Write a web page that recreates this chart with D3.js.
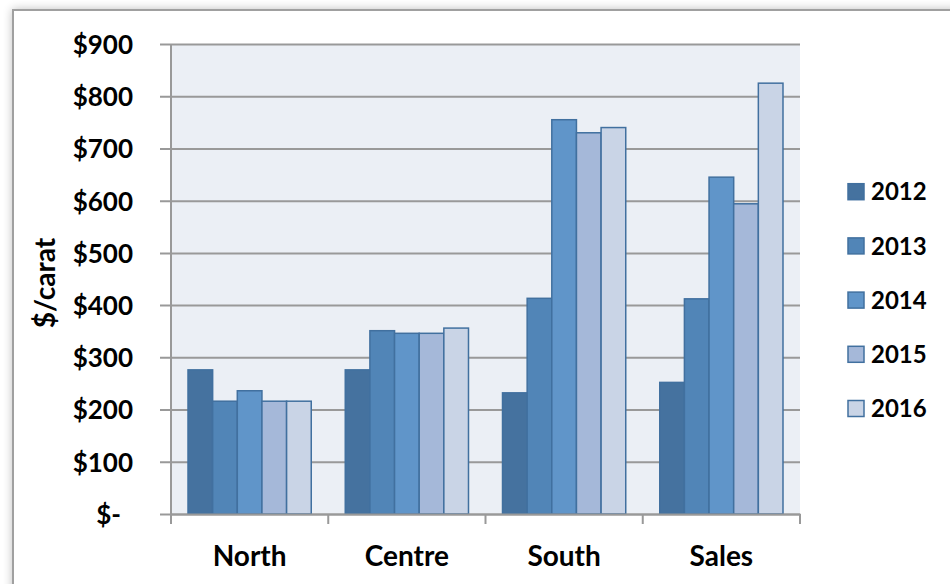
<!DOCTYPE html>
<html>
<head>
<meta charset="utf-8">
<script src="https://cdn.jsdelivr.net/npm/d3@7/dist/d3.min.js"></script>
<style>
  html, body { margin: 0; padding: 0; background: #fff; }
  svg { display: block; }
  text { font-family: Lato, "Open Sans", sans-serif; font-weight: bold; fill: #000; }
</style>
</head>
<body>
<svg id="chart" width="950" height="584"></svg>
<script>
// Price per carat by region, 2012–2016
const categories = ["North", "Centre", "South", "Sales"];
const years = ["2012", "2013", "2014", "2015", "2016"];
const v2012 = [276, 276, 232, 252];
const v2013 = [216, 351, 413, 412];
const v2014 = [236, 346, 755, 645];
const v2015 = [216, 346, 730, 594];
const v2016 = [216, 356, 740, 825];
const yTicks = [0, 100, 200, 300, 400, 500, 600, 700, 800, 900];
const colors = ["#45729f", "#5185b7", "#6095c9", "#a5b8d9", "#c9d4e6"];

const series = [v2012, v2013, v2014, v2015, v2016];
const svg = d3.select("#chart");

// Outer chart frame with a soft shadow
const defs = svg.append("defs");
const f = defs.append("filter").attr("id", "shadow").attr("x", "-5%").attr("y", "-5%").attr("width", "110%").attr("height", "110%");
f.append("feGaussianBlur").attr("in", "SourceAlpha").attr("stdDeviation", 5);
f.append("feOffset").attr("dx", 0).attr("dy", 0).attr("result", "b");
f.append("feComponentTransfer").append("feFuncA").attr("type", "linear").attr("slope", 0.25);
const m = f.append("feMerge");
m.append("feMergeNode");
m.append("feMergeNode").attr("in", "SourceGraphic");

svg.append("rect")
  .attr("x", 13).attr("y", 10).attr("width", 960).attr("height", 600)
  .attr("fill", "#fff").attr("stroke", "#a0a0a0").attr("stroke-width", 2)
  .attr("filter", "url(#shadow)");

const plot = { left: 171, right: 800, top: 44, bottom: 514 };

const x = d3.scaleBand().domain(categories).range([plot.left, plot.right]).paddingInner(0).paddingOuter(0);
const inner = d3.scaleBand().domain(years).range([0, x.bandwidth()]).paddingInner(0).paddingOuter(0.69);
const y = d3.scaleLinear().domain([0, 900]).range([plot.bottom, plot.top]);

// Plot background
svg.append("rect")
  .attr("x", plot.left).attr("y", plot.top)
  .attr("width", plot.right - plot.left).attr("height", plot.bottom - plot.top)
  .attr("fill", "#ebeff5");

// Gridlines with outward ticks
const yAxis = d3.axisLeft(y).tickValues(yTicks)
  .tickSize(-(plot.right - plot.left)).tickSizeOuter(0)
  .tickFormat(d => d === 0 ? "$-" : "$" + d);
const gy = svg.append("g").attr("transform", `translate(${plot.left},0)`).call(yAxis);
gy.select(".domain").remove();
gy.selectAll(".tick line")
  .attr("x1", -11)
  .attr("stroke", "#999").attr("stroke-width", 2);
gy.selectAll(".tick text")
  .attr("x", -38).attr("dy", "0.36em")
  .style("font-size", "26px").style("font-family", "Lato, sans-serif").style("font-weight", "bold");
gy.selectAll(".tick").filter(d => d === 0).select("text").attr("x", -50);

// Vertical axis line
svg.append("line")
  .attr("x1", plot.left).attr("x2", plot.left)
  .attr("y1", plot.top).attr("y2", plot.bottom + 10)
  .attr("stroke", "#999").attr("stroke-width", 2);

// Bars
const groups = svg.append("g").selectAll("g").data(categories).join("g")
  .attr("transform", d => `translate(${x(d)},0)`);
groups.selectAll("rect")
  .data((c, i) => years.map((yr, k) => ({ yr, k, v: series[k][i] })))
  .join("rect")
  .attr("x", d => inner(d.yr))
  .attr("y", d => y(d.v))
  .attr("width", inner.bandwidth())
  .attr("height", d => y(0) - y(d.v))
  .attr("fill", d => colors[d.k])
  .attr("stroke", "#41709f").attr("stroke-width", 1.5);

// Category axis
const xAxis = d3.axisBottom(x).tickSize(0).tickSizeOuter(0);
const gx = svg.append("g").attr("transform", `translate(0,${plot.bottom})`).call(xAxis);
gx.select(".domain").attr("stroke", "#999").attr("stroke-width", 2);
gx.selectAll(".tick text")
  .attr("y", 52).attr("dy", 0)
  .style("font-size", "28px").style("font-family", "Lato, sans-serif").style("font-weight", "bold");
// Category separators
const seps = [...categories.map(c => x(c)), plot.right];
svg.append("g").selectAll("line").data(seps).join("line")
  .attr("x1", d => d).attr("x2", d => d)
  .attr("y1", plot.bottom).attr("y2", plot.bottom + 10)
  .attr("stroke", "#999").attr("stroke-width", 2);

// Axis title
svg.append("text")
  .attr("transform", "translate(55,283) rotate(-90)")
  .attr("text-anchor", "middle")
  .style("font-size", "28px")
  .text("$/carat");

// Legend
const leg = svg.append("g").selectAll("g").data(years).join("g")
  .attr("transform", (d, i) => `translate(848,${191.7 + i * 54.2})`);
leg.append("rect")
  .attr("x", 0).attr("y", -8).attr("width", 16).attr("height", 16)
  .attr("fill", (d, i) => colors[i]).attr("stroke", "#41709f").attr("stroke-width", 1.5);
leg.append("text")
  .attr("x", 23).attr("y", 0).attr("dy", "0.36em")
  .style("font-size", "24px")
  .text(d => d);
</script>
</body>
</html>
